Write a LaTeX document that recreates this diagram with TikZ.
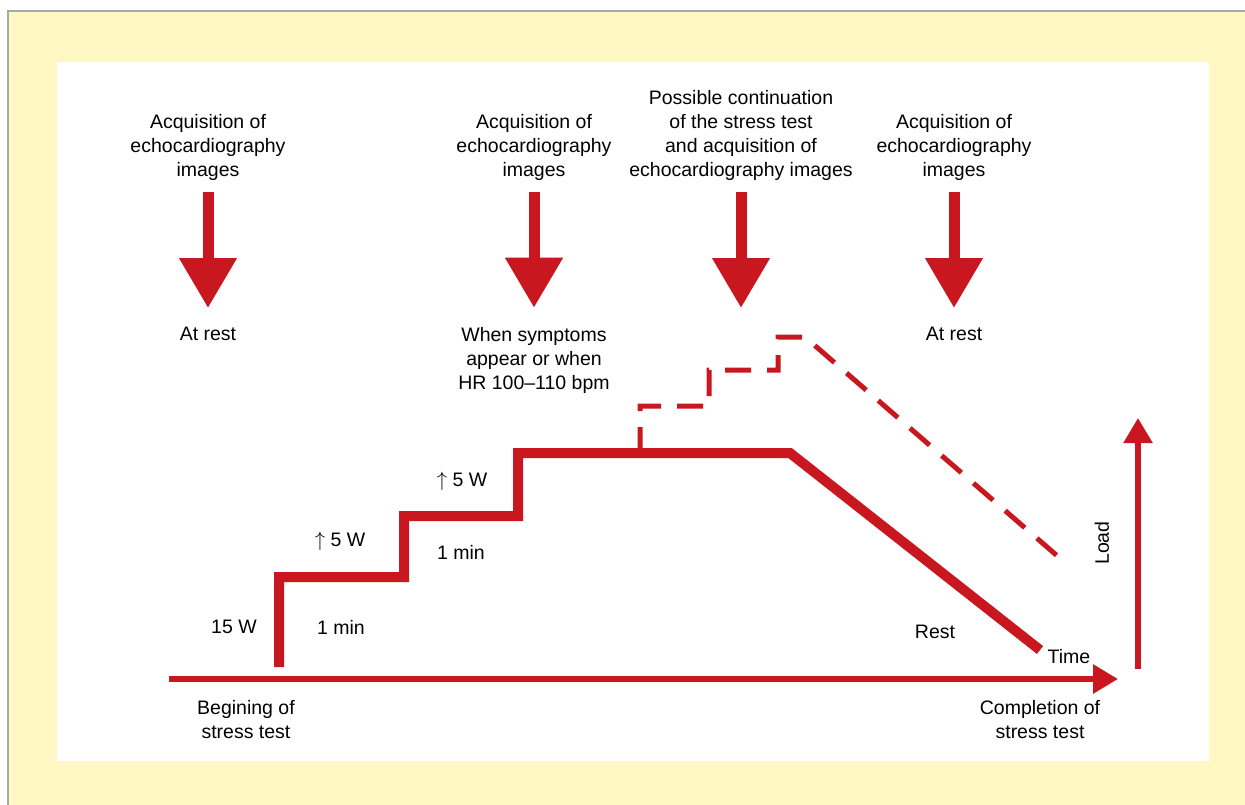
\documentclass[tikz,border=0pt]{standalone}
\usepackage{fontspec}
\setmainfont{Liberation Sans}
\usepackage{tikz}
\usetikzlibrary{positioning}
\usetikzlibrary{arrows.meta}
\definecolor{echored}{HTML}{C8171E}
\definecolor{paleyellow}{HTML}{FFF8C4}
\definecolor{framegray}{HTML}{A8A8A8}
\tikzstyle{txt} = [inner sep=0pt, align=center, font=\fontsize{19.5}{24}\selectfont]
\tikzstyle{bigarrow} = [echored, line width=11pt, -{Triangle[width=55pt,length=50pt]}]
\tikzstyle{axis} = [echored, line width=6pt, -{Triangle[width=28pt,length=25pt]}]
\tikzstyle{loadaxis} = [echored, line width=5.5pt, -{Triangle[width=28pt,length=25pt]}]
\tikzstyle{stairs} = [echored, line width=10pt]
\tikzstyle{dashstairs} = [echored, line width=5pt, dash pattern=on 26pt off 16pt]

\begin{document}
\begin{tikzpicture}[x=1pt,y=-1pt]
    \useasboundingbox (0,0) rectangle (1245,804);
    % background
    \filldraw [fill=paleyellow, draw=framegray, line width=1.5pt] (8,11) rectangle (1260,820);
    \fill [white] (57,62) rectangle (1209,761);

    % image acquisition
    \node [txt] (acq1) at (208,147) {Acquisition of\\echocardiography\\images};
    \node [txt] (acq2) at (534,147) {Acquisition of\\echocardiography\\images};
    \node [txt] (cont) at (741,135) {Possible continuation\\of the stress test\\and acquisition of\\echocardiography images};
    \node [txt] (acq4) at (954,147) {Acquisition of\\echocardiography\\images};
    \node [txt] (rest1) at (208,334) {At rest};
    \node [txt] (symp) at (534,360) {When symptoms\\appear or when\\HR 100--110 bpm};
    \node [txt] (rest4) at (954,334) {At rest};
    \coordinate (tip3) at (741,308);

    \draw [bigarrow, shorten <=12pt, shorten >=19pt] (acq1) -- (rest1);
    \draw [bigarrow, shorten <=12pt, shorten >=19pt] (acq2) -- (symp);
    \draw [bigarrow, shorten <=12pt] (cont) -- (tip3);
    \draw [bigarrow, shorten <=12pt, shorten >=19pt] (acq4) -- (rest4);

    % load profile
    \draw [dashstairs] (640,453) -- (640,406) -- (709,406) -- (709,370) -- (778,370) -- (778,337) -- (805,337) -- (1062,560);
    \draw [stairs] (279,667) -- (279,577) -- (404,577) -- (404,516) -- (518,516) -- (518,453) -- (790,453) -- (1040,650);

    \node [txt] (w15) at (234,627) {15 W};
    \node [txt] (min1) at (341,627) {1 min};
    \node [txt] (up1) at (340,541) {$\uparrow$\ 5 W};
    \node [txt] (min2) at (461,552) {1 min};
    \node [txt] (up2) at (462,481) {$\uparrow$\ 5 W};
    \node [txt] (restlbl) at (935,632) {Rest};

    % axes
    \coordinate (t0) at (169,679);
    \coordinate (t1) at (1118,679);
    \coordinate (l0) at (1138,669);
    \coordinate (l1) at (1138,418);
    \draw [axis] (t0) -- (t1);
    \draw [loadaxis] (l0) -- (l1);
    \node [txt] (time) at (1069,657) {Time};
    \node [txt, rotate=90] (load) at (1102,543) {Load};
    \node [txt] (begin) at (246,720) {Begining of\\stress test};
    \node [txt] (compl) at (1040,720) {Completion of\\stress test};
\end{tikzpicture}
\end{document}
